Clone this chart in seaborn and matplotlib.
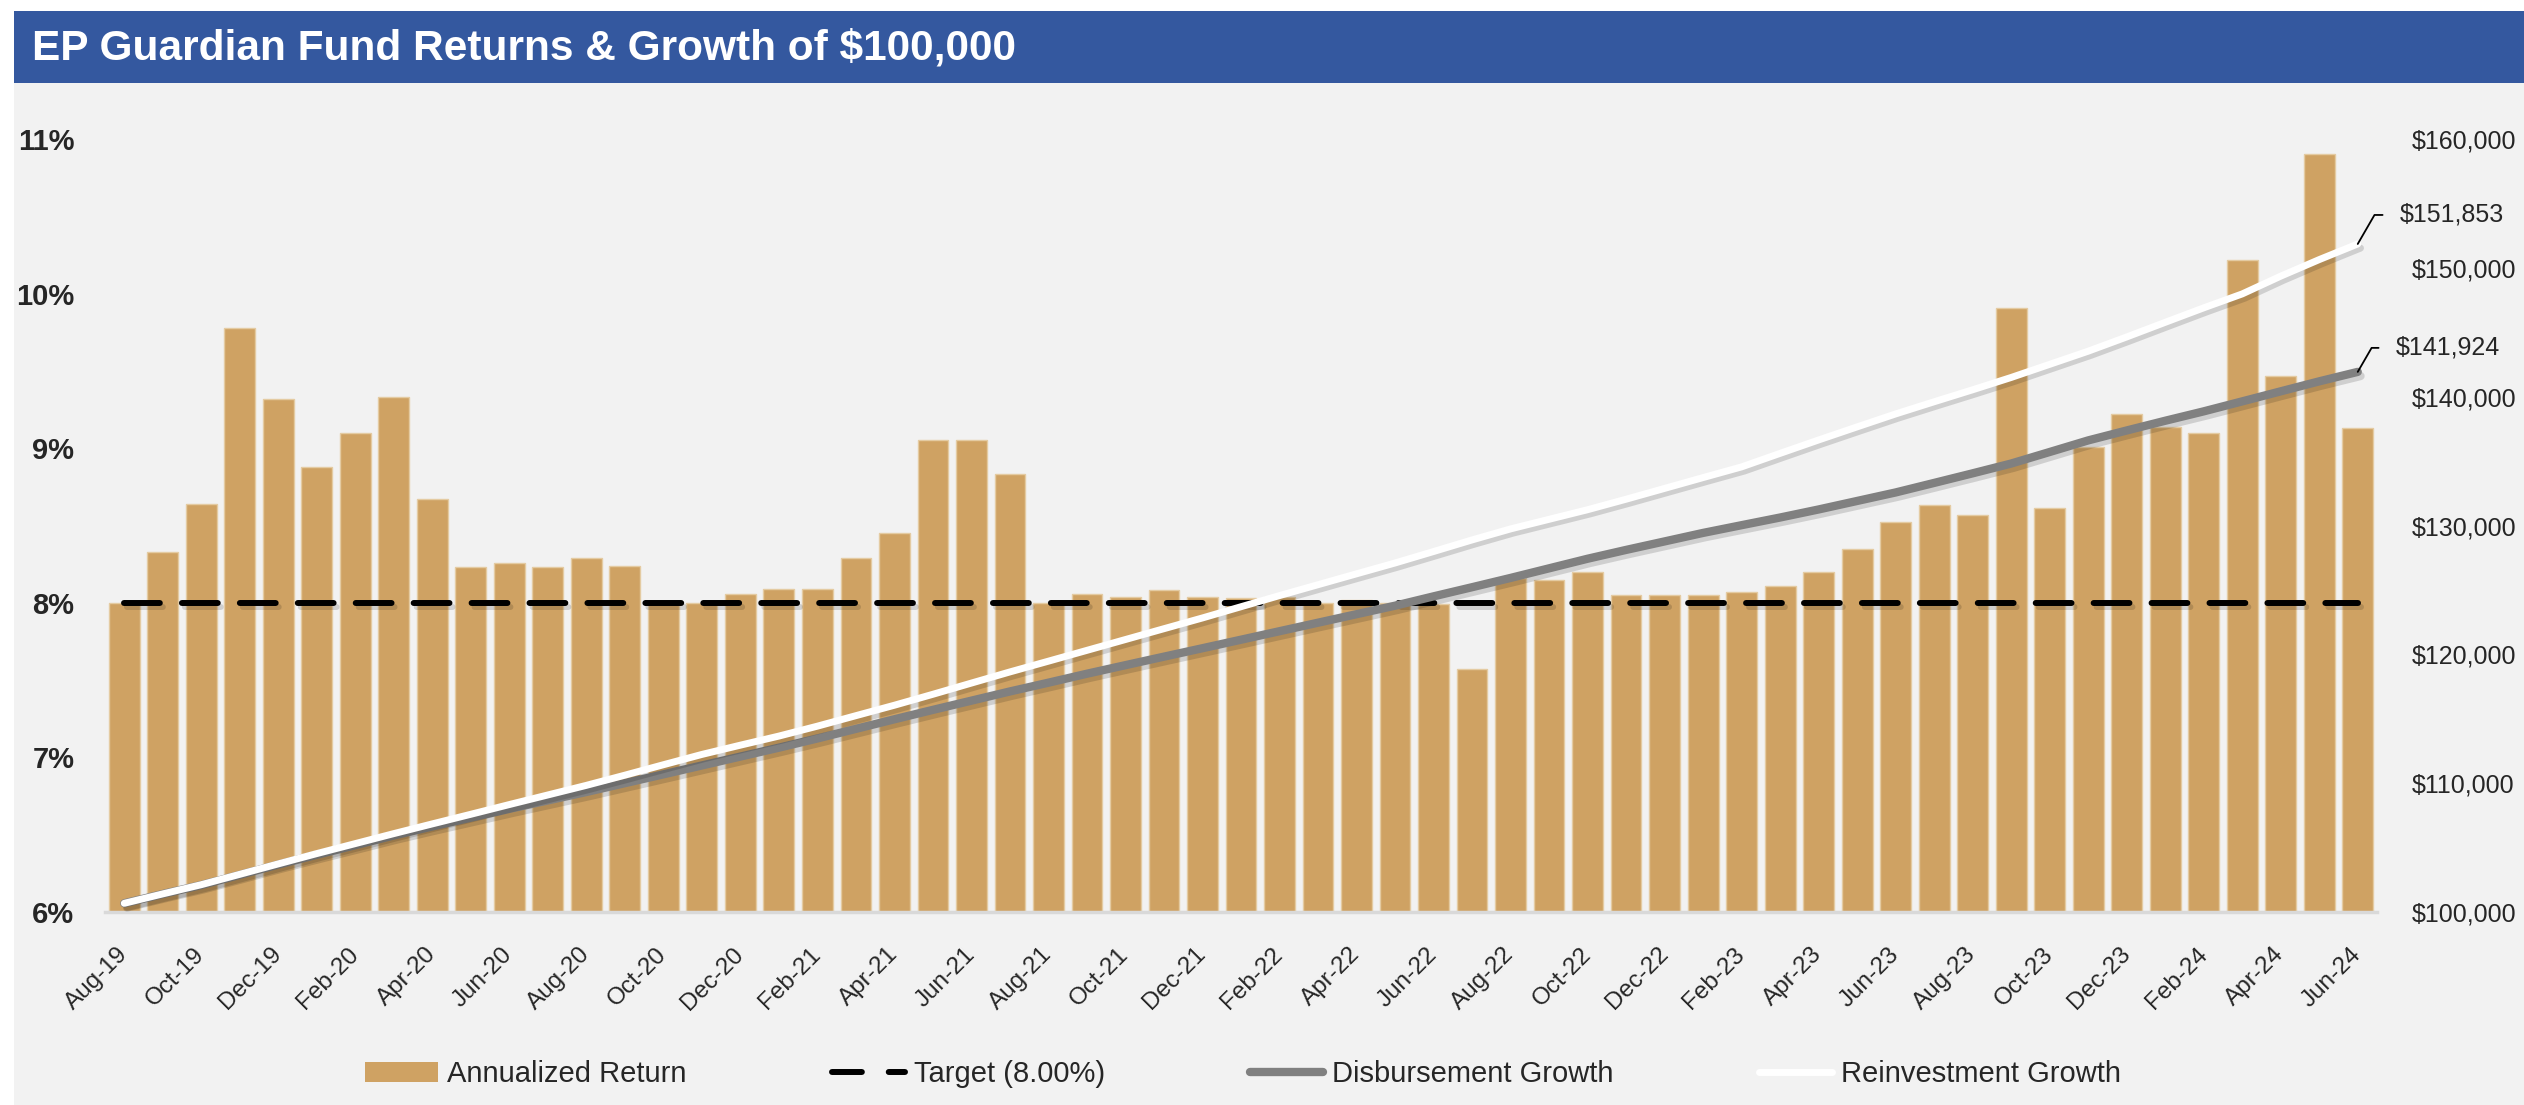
import numpy as np
import pandas as pd
import seaborn as sns
import matplotlib.pyplot as plt
from matplotlib import patheffects as pe
from matplotlib.patches import Rectangle, Patch
from matplotlib.lines import Line2D

# data
months = pd.date_range('2019-08-01', periods=59, freq='MS').strftime('%b-%y').tolist()

annualized_return = [
    8.00, 8.33, 8.64, 9.78, 9.32, 8.88, 9.10, 9.33, 8.67, 8.23,
    8.26, 8.23, 8.29, 8.24, 7.99, 8.00, 8.06, 8.09, 8.09, 8.29,
    8.45, 9.05, 9.05, 8.83, 8.00, 8.06, 8.04, 8.08, 8.04, 8.03,
    8.04, 8.00, 8.02, 8.00, 7.99, 7.57, 8.16, 8.15, 8.20, 8.05,
    8.05, 8.05, 8.07, 8.11, 8.20, 8.35, 8.52, 8.63, 8.57, 9.91,
    8.61, 9.01, 9.22, 9.14, 9.10, 10.22, 9.47, 10.90, 9.13,
]

target_rate = 8.0
target = [target_rate] * len(months)

disbursement = [
    100675, 101395, 102090, 102880, 103680, 104440, 105185, 105940, 106640, 107320,
    108005, 108660, 109315, 110000, 110685, 111375, 112065, 112755, 113470, 114215,
    114960, 115690, 116405, 117120, 117800, 118495, 119160, 119820, 120475, 121135,
    121795, 122455, 123115, 123775, 124500, 125210, 125930, 126675, 127420, 128105,
    128765, 129425, 130025, 130620, 131245, 131905, 132565, 133305, 134050, 134810,
    135705, 136605, 137375, 138130, 138860, 139635, 140415, 141190, 141924,
]

reinvestment = [
    100675, 101405, 102120, 102925, 103735, 104535, 105310, 106085, 106840, 107585,
    108340, 109085, 109830, 110620, 111430, 112230, 112950, 113655, 114425, 115240,
    116050, 116900, 117770, 118635, 119470, 120310, 121150, 121990, 122825, 123695,
    124560, 125405, 126250, 127090, 127980, 128880, 129735, 130480, 131225, 132040,
    132880, 133720, 134550, 135600, 136640, 137655, 138660, 139605, 140535, 141490,
    142510, 143530, 144635, 145770, 146895, 147975, 149355, 150640, 151853,
]

pct_ticks = [6, 7, 8, 9, 10, 11]
pct_labels = ['6%', '7%', '8%', '9%', '10%', '11%']
dollar_ticks = [100000, 110000, 120000, 130000, 140000, 150000, 160000]
dollar_labels = [f"${v:,.0f}" for v in dollar_ticks]

title = 'EP Guardian Fund Returns & Growth of $100,000'
legend_labels = ['Annualized Return', 'Target (8.00%)', 'Disbursement Growth', 'Reinvestment Growth']

BAR = '#CFA263'
GREY = '#808080'
BLUE = '#34589F'
PANEL = '#F2F2F2'

sns.set_style('white')
plt.rcParams['font.family'] = ['Liberation Sans', 'DejaVu Sans']

W, H = 2524, 1105
fig = plt.figure(figsize=(W / 100, H / 100), dpi=100)
fig.patch.set_facecolor('white')

# grey panel + blue title banner
fig.add_artist(Rectangle((14 / W, 0), 1, 1 - 83 / H, transform=fig.transFigure,
                         facecolor=PANEL, edgecolor='none', zorder=-10))
fig.add_artist(Rectangle((14 / W, 1 - 83 / H), 1, 72 / H, transform=fig.transFigure,
                         facecolor=BLUE, edgecolor='none', zorder=-9))
fig.text(32 / W, 1 - 48 / H, title, color='white', fontsize=30.5, fontweight='bold',
         ha='left', va='center')

ax = fig.add_axes([105 / W, 1 - 912 / H, (2377 - 105) / W, (912 - 139) / H])
ax.patch.set_visible(False)

pos = np.arange(len(months))
sns.barplot(x=months, y=annualized_return, color=BAR, saturation=1, width=0.8,
            edgecolor='#E4CBA2', linewidth=1, ax=ax)

shadow = [pe.SimpleLineShadow(offset=(2, -3), shadow_color='black', alpha=0.14), pe.Normal()]
sns.lineplot(x=pos, y=target, ax=ax, color='black', linewidth=4.3,
             linestyle=(0, (6, 3.7)), dash_capstyle='round', path_effects=shadow, legend=False)

ax.set_ylim(6, 11)
ax.set_yticks(pct_ticks)
ax.set_yticklabels(pct_labels, fontweight='bold', fontsize=21)
ax.set_xticks(pos[::2])
ax.set_xticklabels(months[::2], rotation=45, ha='right', va='center',
                   rotation_mode='anchor', fontsize=17.5)
ax.tick_params(axis='y', length=0, pad=22)
ax.tick_params(axis='x', length=0, pad=28)
ax.set_xlabel('')
ax.set_ylabel('')
for s in ['top', 'left', 'right']:
    ax.spines[s].set_visible(False)
ax.spines['bottom'].set_color('#D9D9D9')
ax.spines['bottom'].set_linewidth(2.5)

ax2 = ax.twinx()
sns.lineplot(x=pos, y=disbursement, ax=ax2, color=GREY, linewidth=6,
             solid_capstyle='round', path_effects=shadow, legend=False)
sns.lineplot(x=pos, y=reinvestment, ax=ax2, color='white', linewidth=5,
             solid_capstyle='round', path_effects=shadow, legend=False)
ax2.set_ylim(100000, 160000)
ax2.set_yticks(dollar_ticks)
ax2.set_yticklabels(dollar_labels, fontsize=18)
ax2.tick_params(axis='y', length=0, pad=25)
ax2.set_ylabel('')
for s in ax2.spines.values():
    s.set_visible(False)
ax.set_xlim(-0.5, len(months) - 0.5)

# end-value callouts
for series, off in [(reinvestment, (42, 29)), (disbursement, (38, 24))]:
    ax2.annotate(f"${series[-1]:,.0f}", xy=(pos[-1], series[-1]), xytext=off,
                 textcoords='offset pixels', ha='left', va='center', fontsize=18,
                 arrowprops=dict(arrowstyle='-', color='black', lw=1.3, shrinkA=10, shrinkB=0,
                                 relpos=(0, 0.5),
                                 connectionstyle='angle,angleA=0,angleB=60,rad=0'))

handles = [
    Patch(facecolor=BAR, edgecolor='none'),
    Line2D([], [], color='black', linewidth=4.3, linestyle=(0, (5, 4.5)), dash_capstyle='round'),
    Line2D([], [], color=GREY, linewidth=6),
    Line2D([], [], color='white', linewidth=5),
]
fig.legend(handles, legend_labels, loc='center', bbox_to_anchor=(1243 / W, 1 - 1074 / H),
           ncol=4, frameon=False, fontsize=21, handlelength=2.5, handleheight=0.7,
           handletextpad=0.3, columnspacing=5.0)

fig.savefig('out.png', dpi=100)
